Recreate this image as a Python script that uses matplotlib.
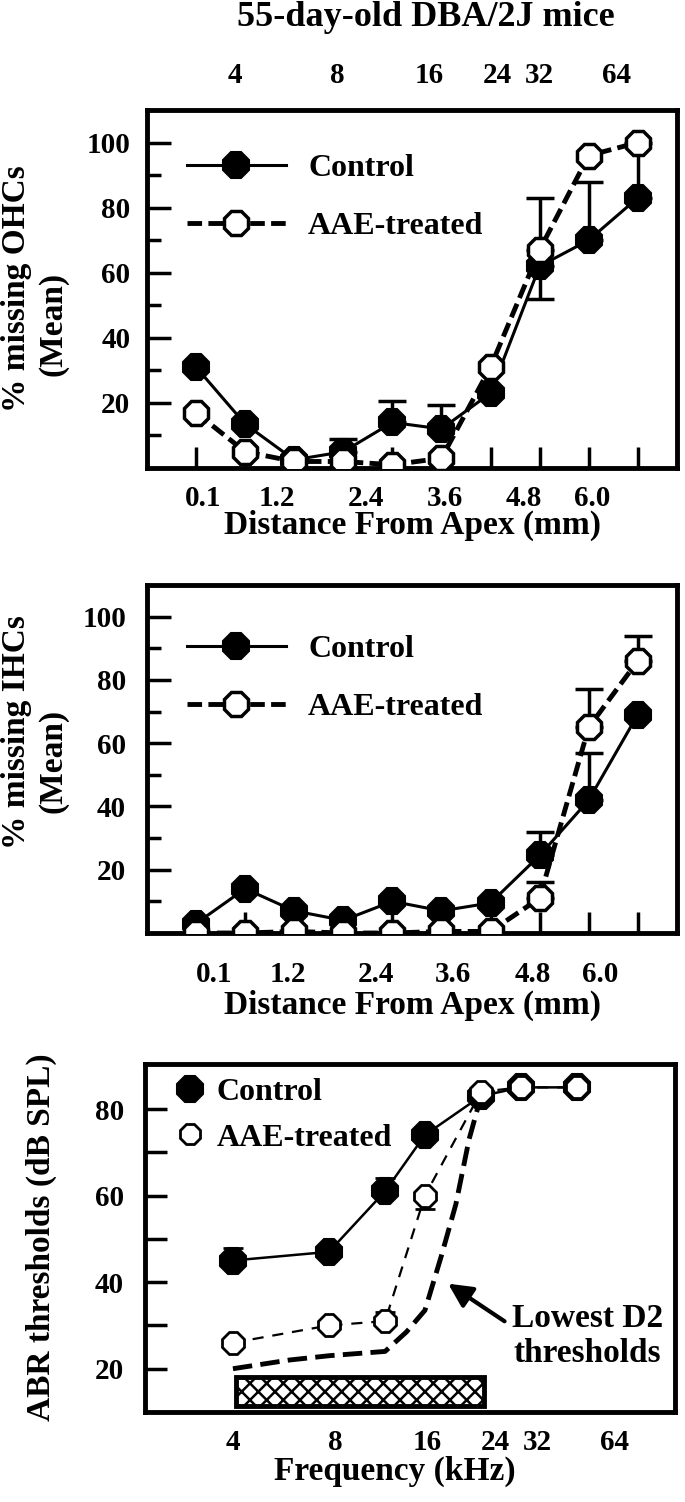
import matplotlib.pyplot as plt
import matplotlib.patches as mpatches
from matplotlib.lines import Line2D
from matplotlib.ticker import NullLocator
import numpy as np

plt.rcParams['font.family'] = ['Liberation Serif', 'DejaVu Serif']
plt.rcParams['font.weight'] = 'bold'
plt.rcParams['axes.labelweight'] = 'bold'
plt.rcParams['hatch.linewidth'] = 1.8

# cochlear segment index, apex -> base
segment = [1, 2, 3, 4, 5, 6, 7, 8, 9, 10]
dist_labels = ['0.1', '1.2', '2.4', '3.6', '4.8', '6.0']
ohc_label_pos = [1.14, 2.65, 4.47, 6.08, 7.67, 9.08]
ihc_label_pos = [1.37, 2.88, 4.67, 6.24, 7.86, 9.24]

# % missing OHCs
ohc_control = [31, 13.5, 2.5, 5, 14, 12, 23, 62, 70, 83]
ohc_control_up = [0, 0, 0, 4, 6.5, 7.5, 0, 0, 18, 17]
ohc_control_dn = [0, 0, 0, 0, 0, 0, 0, 10, 0, 0]
ohc_aae = [17, 5, 2, 2, 1, 3, 31, 67, 96, 100]
ohc_aae_up = [0, 0, 0, 0, 0, 0, 0, 16, 0, 0]

# % missing IHCs
ihc_control = [3, 14, 7, 4, 10, 7, 9.5, 24.5, 42, 69]
ihc_control_up = [0, 0, 0, 0, 0, 0, 0, 7.5, 15, 0]
ihc_aae = [0, 0, 0.5, 0, 0, 0.5, 0.5, 11, 65, 86]
ihc_aae_up = [0, 0, 0, 0, 0, 0, 0, 5, 12, 8]

# ABR thresholds
freq_khz = [4, 8, 12, 16, 24, 32, 48]
abr_control = [45, 47, 61, 74, 83, 85, 85]
abr_control_up = [3, 1, 3, 1, 0, 0, 0]
abr_aae = [26, 30, 31, 60, 84, 85, 85]
abr_aae_up = [0, 0, 2, 0, 0, 0, 0]
abr_aae_dn = [0, 0, 0, 3, 0, 0, 0]

d2_freq = [4, 6, 8, 12, 14, 16, 18, 20, 22, 24]
d2_thresh = [20, 22, 23, 24, 28.5, 33.5, 46, 58, 73, 83]

bar_freq = [4.1, 24.5]
bar_db = [11.5, 18]

freq_labels = ['4', '8', '16', '24', '32', '64']
freq_label_pos = [4, 8.4, 16.3, 26.5, 36, 63]
freq_lim = [2.12, 97.3]

W, H = 685, 1502
fig = plt.figure(figsize=(W / 100, H / 100), dpi=100)


def px_axes(left, top, right, bottom):
    return fig.add_axes([left / W, 1 - bottom / H, (right - left) / W, (bottom - top) / H])


def draw_err(ax, x, y, dn, up, capsize, lw):
    x = np.asarray(x, float)
    y = np.asarray(y, float)
    dn = np.asarray(dn, float)
    up = np.asarray(up, float)
    keep = (dn > 0) | (up > 0)
    ax.errorbar(x[keep], y[keep], yerr=[dn[keep], up[keep]], fmt='none',
                ecolor='black', elinewidth=lw, capsize=capsize, capthick=lw, zorder=2)


def frame(ax):
    for s in ax.spines.values():
        s.set_linewidth(3.5)


def cell_panel(ax, ctrl, ctrl_dn, ctrl_up, aae, aae_up, label_pos, xpad, ypad, leg_y,
               ylab, ylab_xy, mean_xy):
    zeros = [0] * len(segment)
    draw_err(ax, segment, ctrl, ctrl_dn, ctrl_up, 10, 2.5)
    draw_err(ax, segment, aae, zeros, aae_up, 10, 2.5)
    ax.plot(segment, ctrl, color='black', lw=2.2, marker='8', ms=20, mfc='black',
            mec='black', mew=1.5, label='Control', zorder=3)
    ax.plot(segment, aae, color='black', lw=3.5, ls=(0, (3, 1.3)), marker='8', ms=19,
            mfc='white', mec='black', mew=2.5, label='AAE-treated', zorder=4)
    ax.set_xlim(0, 10.8)
    ax.set_ylim(0, 110)
    ax.set_yticks([20, 40, 60, 80, 100])
    ax.set_yticks([10, 30, 50, 70, 90], minor=True)
    ax.tick_params(axis='y', which='major', direction='in', length=17, width=2.5,
                   labelsize=21, pad=ypad)
    ax.tick_params(axis='y', which='minor', direction='in', length=10, width=2.5)
    ax.set_xticks(label_pos, dist_labels)
    ax.set_xticks(segment, minor=True)
    ax.tick_params(axis='x', which='major', length=0, labelsize=21, pad=xpad)
    ax.tick_params(axis='x', which='minor', direction='in', length=15, width=2.5)
    frame(ax)
    ax.legend(loc='upper left', bbox_to_anchor=(0.075, leg_y), frameon=False, fontsize=23,
              handlelength=3.1, handletextpad=0.7, labelspacing=0.9, borderpad=0,
              borderaxespad=0, numpoints=1)
    fig.text(ylab_xy[0] / W, 1 - ylab_xy[1] / H, ylab, rotation=90, ha='center', va='center',
             fontsize=24)
    fig.text(mean_xy[0] / W, 1 - mean_xy[1] / H, '(Mean)', rotation=90, ha='center',
             va='center', fontsize=24)


ax1 = px_axes(147, 110, 677, 468)
ax2 = px_axes(147, 585, 677, 933)
ax3 = px_axes(145, 1064, 675, 1412)

cell_panel(ax1, ohc_control, ohc_control_dn, ohc_control_up, ohc_aae, ohc_aae_up,
           ohc_label_pos, 12, 12, 0.878, '% missing OHCs', (17, 289), (53, 324))
ax1.text(0.5, -0.159, 'Distance From Apex (mm)', transform=ax1.transAxes, ha='center',
         va='center', fontsize=24)

cell_panel(ax2, ihc_control, [0] * 10, ihc_control_up, ihc_aae, ihc_aae_up,
           ihc_label_pos, 20, 15, 0.858, '% missing IHCs', (17, 732), (53, 761))
ax2.text(0.5, -0.207, 'Distance From Apex (mm)', transform=ax2.transAxes, ha='center',
         va='center', fontsize=24)

# frequency scale above the top panel
axf = ax1.twiny()
axf.set_xscale('log', base=2)
axf.set_xlim(freq_lim)
axf.xaxis.set_minor_locator(NullLocator())
axf.set_xticks(freq_label_pos, freq_labels)
axf.tick_params(axis='x', which='major', length=0, labelsize=21, pad=15)
for s in axf.spines.values():
    s.set_visible(False)

fig.text(426 / W, 1 - 17 / H, '55-day-old DBA/2J mice', ha='center', va='center', fontsize=26)

# ABR panel
zeros7 = [0] * len(freq_khz)
draw_err(ax3, freq_khz, abr_control, zeros7, abr_control_up, 7, 2)
draw_err(ax3, freq_khz, abr_aae, abr_aae_dn, abr_aae_up, 7, 2)
ax3.plot(d2_freq, d2_thresh, color='black', lw=3.5, ls=(0, (4, 1.7)), zorder=2)
ax3.plot(freq_khz, abr_control, color='black', lw=1.8, marker='8', ms=20, mfc='black',
         mec='black', mew=1.5, zorder=3)
ax3.plot(freq_khz, abr_aae, color='black', lw=1.6, ls=(0, (5, 4)), marker='8', ms=16.5,
         mfc='white', mec='black', mew=2, zorder=4)
ax3.add_patch(mpatches.Rectangle((bar_freq[0], bar_db[0]), bar_freq[1] - bar_freq[0],
                                 bar_db[1] - bar_db[0], facecolor='white', edgecolor='black',
                                 lw=3.5, hatch='xx', zorder=2))
ax3.annotate('', xy=(18.6, 40), xytext=(28.9, 30.6),
             arrowprops=dict(arrowstyle='-|>', lw=3, color='black', mutation_scale=36))
ax3.text(30.0, 27.6, 'Lowest D2\nthresholds', ha='left', va='center', fontsize=24,
         multialignment='center', linespacing=1.15)
ax3.set_xscale('log', base=2)
ax3.set_xlim(freq_lim)
ax3.set_ylim(10, 90.4)
ax3.xaxis.set_minor_locator(NullLocator())
ax3.set_xticks(freq_label_pos, freq_labels)
ax3.tick_params(axis='x', which='major', length=0, labelsize=21, pad=12)
ax3.set_yticks([20, 40, 60, 80])
ax3.set_yticks([30, 50, 70], minor=True)
ax3.tick_params(axis='y', which='both', direction='in', length=16, width=2.5, labelsize=21,
                pad=15)
frame(ax3)
ax3.text(0.472, -0.172, 'Frequency (kHz)', transform=ax3.transAxes, ha='center', va='center',
         fontsize=24)
fig.text(41 / W, 1 - 1237 / H, 'ABR thresholds (dB SPL)', rotation=90, ha='center',
         va='center', fontsize=24)

leg_handles = [
    Line2D([], [], ls='none', marker='8', ms=20, mfc='black', mec='black', mew=1.5),
    Line2D([], [], ls='none', marker='8', ms=15, mfc='white', mec='black', mew=2),
]
ax3.legend(leg_handles, ['Control', 'AAE-treated'], loc='upper left',
           bbox_to_anchor=(0.06, 0.96), frameon=False, fontsize=23, handlelength=0.8,
           handletextpad=0.45, labelspacing=0.5, borderpad=0, borderaxespad=0)

fig.savefig('out.png', dpi=100)
